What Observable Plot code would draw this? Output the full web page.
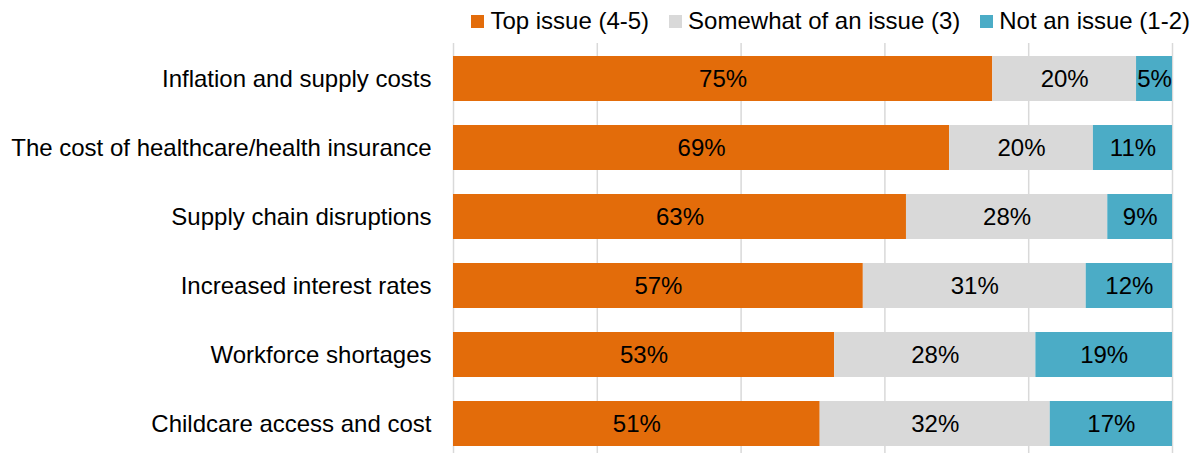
<!DOCTYPE html>
<html>
<head>
<meta charset="utf-8">
<script src="https://cdn.jsdelivr.net/npm/d3@7"></script>
<script src="https://cdn.jsdelivr.net/npm/@observablehq/plot@0.6"></script>
<style>
  html, body { margin: 0; padding: 0; background: #fff; overflow: hidden; }
  body { width: 1201px; height: 453px; font-family: "Liberation Sans", Arial, sans-serif; }
  #legend { height: 43px; display: flex; justify-content: flex-end; align-items: center; padding-right: 11px; padding-bottom: 1px; box-sizing: border-box; font-size: 24px; color: #000; }
  #legend .item { display: flex; align-items: center; margin-left: 20px; }
  #legend .sw { width: 13px; height: 13px; margin-right: 6px; }
  #chart svg { display: block; }
</style>
</head>
<body>
<div id="legend"></div>
<div id="chart"></div>
<script>
const categories = [
  "Inflation and supply costs",
  "The cost of healthcare/health insurance",
  "Supply chain disruptions",
  "Increased interest rates",
  "Workforce shortages",
  "Childcare access and cost"
];
const seriesNames = ["Top issue (4-5)", "Somewhat of an issue (3)", "Not an issue (1-2)"];
const seriesColors = ["#E36C0A", "#D9D9D9", "#4BACC6"];
const topIssue = [75, 69, 63, 57, 53, 51];
const somewhat = [20, 20, 28, 31, 28, 32];
const notIssue = [5, 11, 9, 12, 19, 17];
const xTicks = [0, 20, 40, 60, 80, 100];

const seriesValues = [topIssue, somewhat, notIssue];
const data = [];
categories.forEach((c, i) => {
  seriesNames.forEach((s, j) => {
    data.push({category: c, series: s, value: seriesValues[j][i]});
  });
});

// legend
const legend = document.getElementById("legend");
seriesNames.forEach((s, j) => {
  const item = document.createElement("div");
  item.className = "item";
  const sw = document.createElement("div");
  sw.className = "sw";
  sw.style.background = seriesColors[j];
  const t = document.createElement("span");
  t.textContent = s;
  item.appendChild(sw);
  item.appendChild(t);
  legend.appendChild(item);
});

const chart = Plot.plot({
  width: 1201,
  height: 416,
  marginLeft: 453,
  marginRight: 29,
  marginTop: 0,
  marginBottom: 0,
  style: {fontFamily: "'Liberation Sans', Arial, sans-serif", fontSize: "24px", color: "#000", background: "#fff"},
  x: {domain: [0, 100], axis: null},
  y: {domain: categories, paddingInner: 0.35, paddingOuter: 0.174, label: null, tickSize: 0, tickPadding: 22},
  color: {domain: seriesNames, range: seriesColors},
  marks: [
    Plot.ruleX(xTicks, {stroke: "#d9d9d9", strokeWidth: 1.5}),
    Plot.barX(data, Plot.stackX({x: "value", y: "category", fill: "series", z: "series"})),
    Plot.textX(data, Plot.stackX({x: "value", y: "category", z: "series", text: d => d.value + "%", fill: "#000", fontSize: 24})),
    Plot.axisY({tickSize: 0, tickPadding: 22, label: null, fontSize: 24, fill: "#000"})
  ]
});
document.getElementById("chart").appendChild(chart);
</script>
</body>
</html>
